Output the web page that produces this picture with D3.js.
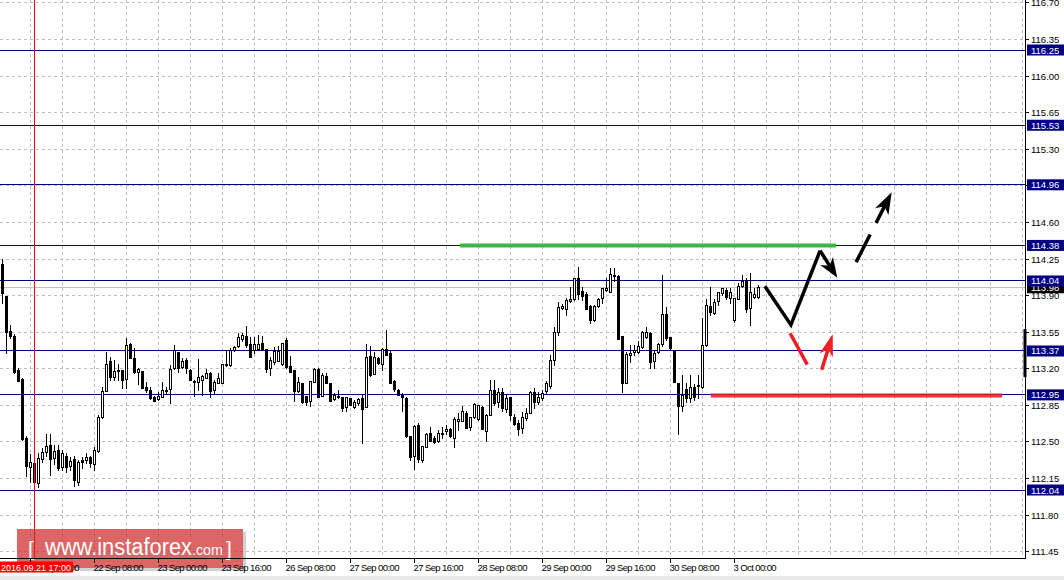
<!DOCTYPE html>
<html><head><meta charset="utf-8">
<script src="https://cdn.jsdelivr.net/npm/d3@7"></script>
<style>
body{margin:0;background:#fff;}
svg{display:block;font-family:"Liberation Sans",Arial,sans-serif;}
</style>
</head><body>
<svg id="c" width="1064" height="580"></svg>
<script>
// ---- data (USD/JPY H1) ----
const opens = [114.20,113.90,113.56,113.51,113.19,113.10,112.54,112.26,112.30,112.11,
112.33,112.40,112.47,112.34,112.42,112.26,112.37,112.27,112.34,112.12,
112.33,112.33,112.36,112.29,112.41,112.74,112.99,113.27,113.12,113.19,
113.19,113.10,113.44,113.30,113.17,113.18,113.03,113.00,112.93,112.91,
112.93,112.99,113.01,113.21,113.36,113.21,113.28,113.19,113.07,113.07,
113.09,113.11,113.16,112.99,113.06,113.07,113.24,113.24,113.38,113.41,
113.48,113.51,113.44,113.38,113.39,113.45,113.39,113.20,113.26,113.27,
113.25,113.48,113.23,113.19,112.98,113.06,112.94,112.89,113.08,113.20,
112.94,113.13,113.06,112.91,112.94,112.93,112.83,112.92,112.83,112.87,
112.92,112.83,113.32,113.15,113.30,113.25,113.39,113.35,113.08,113.00,
112.95,112.92,112.56,112.36,112.66,112.33,112.46,112.59,112.54,112.51,
112.58,112.60,112.62,112.54,112.70,112.70,112.78,112.64,112.74,112.72,
112.83,112.61,112.76,113.00,112.88,112.98,112.81,112.93,112.74,112.68,
112.63,112.73,112.78,112.98,112.88,112.92,112.98,113.03,113.28,113.55,
113.78,113.77,113.85,113.87,114.07,113.94,113.92,113.80,113.67,113.80,
113.87,113.95,113.94,114.10,114.09,113.51,113.06,113.33,113.36,113.36,
113.41,113.50,113.54,113.27,113.36,113.43,113.72,113.50,113.38,113.06,
112.84,113.01,112.92,113.03,113.03,113.03,113.43,113.80,113.73,113.84,
113.92,113.95,113.87,113.67,113.87,113.99,114.05,113.78,113.89,113.88];
const highs = [114.25,113.90,113.62,113.53,113.21,113.11,112.56,112.38,112.30,112.39,
112.44,112.58,112.58,112.47,112.47,112.42,112.39,112.36,112.37,112.33,
112.36,112.39,112.37,112.45,112.76,113.03,113.36,113.31,113.28,113.25,
113.19,113.49,113.45,113.40,113.21,113.18,113.07,113.03,112.94,112.98,
113.07,113.03,113.24,113.43,113.36,113.30,113.30,113.20,113.09,113.29,
113.14,113.20,113.17,113.09,113.16,113.25,113.38,113.40,113.42,113.54,
113.54,113.61,113.50,113.50,113.52,113.51,113.39,113.31,113.41,113.42,
113.45,113.49,113.32,113.19,113.12,113.06,112.94,113.08,113.21,113.21,
113.16,113.16,113.06,112.97,113.00,112.93,112.93,112.92,112.90,112.92,
112.95,113.44,113.42,113.36,113.31,113.40,113.57,113.38,113.09,113.01,
112.97,112.93,112.56,112.66,112.68,112.46,112.59,112.64,112.56,112.61,
112.64,112.66,112.63,112.74,112.78,112.84,112.80,112.74,112.87,112.85,
112.84,112.77,113.09,113.09,113.02,113.02,112.95,112.93,112.77,112.71,
112.79,112.82,112.99,113.02,112.98,113.00,113.08,113.33,113.60,113.84,
113.82,113.88,113.98,114.07,114.17,113.98,113.93,113.81,113.81,113.88,
113.97,114.07,114.16,114.16,114.10,113.51,113.36,113.43,113.43,113.47,
113.56,113.60,113.55,113.38,113.45,114.10,113.79,113.50,113.38,113.06,
113.14,113.06,113.14,113.05,113.14,113.69,113.87,113.98,113.87,113.93,
113.97,113.97,113.97,113.88,114.02,114.10,114.07,114.12,113.97,114.00];
const lows = [113.83,113.35,113.49,113.16,113.08,112.52,112.17,112.12,112.10,112.07,
112.31,112.37,112.18,112.29,112.23,112.23,112.21,112.23,112.08,112.09,
112.25,112.30,112.26,112.23,112.40,112.73,112.99,113.09,113.09,113.09,
113.02,113.02,113.30,113.16,113.05,113.02,112.98,112.91,112.89,112.90,
112.93,112.97,112.87,113.20,113.17,113.21,113.16,113.09,112.94,113.00,
112.95,113.11,112.93,112.97,113.06,113.07,113.23,113.23,113.37,113.41,
113.47,113.41,113.32,113.35,113.38,113.38,113.17,113.14,113.25,113.27,
113.24,113.21,113.17,112.89,112.98,112.87,112.85,112.84,113.08,112.93,
112.94,113.06,112.89,112.90,112.92,112.80,112.80,112.85,112.82,112.85,
112.49,112.83,113.13,113.15,113.25,113.19,113.33,113.06,112.99,112.95,
112.80,112.55,112.33,112.24,112.31,112.31,112.45,112.51,112.49,112.50,
112.54,112.58,112.55,112.45,112.61,112.70,112.64,112.61,112.73,112.71,
112.62,112.51,112.76,112.85,112.83,112.80,112.79,112.71,112.66,112.57,
112.59,112.71,112.78,112.82,112.86,112.90,112.97,113.02,113.24,113.52,
113.77,113.71,113.84,113.86,113.87,113.86,113.78,113.64,113.66,113.79,
113.83,113.94,113.93,114.04,113.49,112.98,113.06,113.26,113.33,113.35,
113.40,113.49,113.21,113.21,113.35,113.42,113.48,113.38,113.07,112.58,
112.80,112.88,112.88,112.90,112.92,113.02,113.42,113.71,113.72,113.81,
113.91,113.87,113.83,113.65,113.87,113.98,113.74,113.62,113.88,113.88];
const closes = [113.92,113.56,113.51,113.17,113.08,112.53,112.27,112.31,112.12,112.35,
112.40,112.46,112.34,112.41,112.25,112.39,112.26,112.32,112.14,112.31,
112.31,112.36,112.30,112.42,112.74,112.99,113.25,113.12,113.18,113.18,
113.09,113.43,113.31,113.17,113.20,113.02,113.00,112.92,112.89,112.94,
113.00,113.00,113.20,113.38,113.21,113.27,113.20,113.09,113.08,113.12,
113.13,113.16,112.99,113.07,113.11,113.25,113.25,113.38,113.41,113.50,
113.52,113.42,113.32,113.44,113.44,113.39,113.20,113.28,113.37,113.37,
113.45,113.22,113.17,112.99,113.07,112.88,112.88,113.08,113.20,112.93,
113.14,113.06,112.89,112.95,112.93,112.82,112.93,112.85,112.88,112.91,
112.81,113.31,113.14,113.31,113.25,113.39,113.33,113.06,113.00,112.95,
112.93,112.56,112.36,112.65,112.33,112.46,112.58,112.51,112.50,112.59,
112.59,112.62,112.55,112.72,112.72,112.80,112.64,112.74,112.86,112.85,
112.62,112.76,113.00,112.88,112.98,112.83,112.92,112.76,112.67,112.62,
112.74,112.78,112.98,112.88,112.93,112.97,113.06,113.28,113.55,113.79,
113.80,113.86,113.87,114.07,113.92,113.89,113.78,113.67,113.80,113.87,
113.97,113.97,114.11,114.09,113.49,113.06,113.34,113.35,113.38,113.42,
113.55,113.55,113.26,113.35,113.44,113.72,113.49,113.39,113.07,112.84,
112.95,112.92,113.03,112.93,113.04,113.43,113.81,113.74,113.84,113.93,
113.97,113.88,113.93,113.88,113.99,114.04,113.77,113.93,113.92,113.98];

const priceTicks = [116.70,116.35,116.00,115.65,115.30,114.95,114.60,114.25,113.90,113.55,113.20,112.85,112.50,112.15,111.80,111.45];
const levels = [116.25,115.53,114.96,114.38,114.04,113.37,112.95,112.04];
const bidPrice = 113.98;
const timeLabels = ["21 Sep 16:00","22 Sep 08:00","23 Sep 00:00","23 Sep 16:00","26 Sep 08:00","27 Sep 00:00","27 Sep 16:00","28 Sep 08:00","29 Sep 00:00","29 Sep 16:00","30 Sep 08:00","3 Oct 00:00"];
const timeLabelBars = [7,23,39,55,71,87,103,119,135,151,167,183];
const crossBar = 8;
const crossLabel = "2016.09.21 17:00";
const sideMarker = [113.58, 113.12];
// forecast drawing: [bar, price]
const greenSupport = {price:114.38, bars:[114.4, 208.4]};
const redSupport = {price:112.95, bars:[177.1, 249.9]};
const blackPath = [[190.6,113.99],[197.1,113.62],[204.4,114.33],[208.7,114.07]];
const blackDashed = [[213.4,114.22],[222.3,114.89]];
const redLine = [[196.9,113.54],[201.2,113.24]];
const redArrow = [[204.8,113.19],[207.55,113.53]];

// ---- drawing ----
const svg = d3.select("#c");
const plotR = 1025, plotB = 558;
const x = d3.scaleLinear().domain([0,256]).range([2.5,1026.5]);
const y = d3.scaleLinear().domain([112.04,116.25]).range([490,50]);
const crisp = v => Math.round(v - 0.5) + 0.5;
const NAVY = "#000080";

svg.append("rect").attr("width",1064).attr("height",580).attr("fill","#fff");
svg.append("defs").append("clipPath").attr("id","clip")
  .append("rect").attr("x",0).attr("y",0).attr("width",plotR).attr("height",plotB);
const plot = svg.append("g").attr("clip-path","url(#clip)");

// grid
plot.append("g").selectAll("line").data(priceTicks).join("line")
  .attr("x1",0).attr("x2",plotR).attr("y1",d=>crisp(y(d))).attr("y2",d=>crisp(y(d)))
  .attr("stroke","#c0c0c0").attr("stroke-dasharray","3,3");
const gridBars = d3.range(7, 256, 8).filter(b => x(b) < plotR);
plot.append("g").selectAll("line").data(gridBars).join("line")
  .attr("x1",d=>x(d)).attr("x2",d=>x(d)).attr("y1",0).attr("y2",plotB)
  .attr("stroke","#c0c0c0").attr("stroke-dasharray","3,3");

// level lines
plot.append("g").selectAll("line").data(levels).join("line")
  .attr("x1",0).attr("x2",plotR).attr("y1",d=>crisp(y(d))).attr("y2",d=>crisp(y(d)))
  .attr("stroke",NAVY).attr("stroke-width",1);
plot.append("line").attr("x1",0).attr("x2",plotR)
  .attr("y1",crisp(y(bidPrice))).attr("y2",crisp(y(bidPrice)))
  .attr("stroke","#c0c0c0");

// candles
const idx = d3.range(opens.length);
const cg = plot.append("g");
cg.selectAll("line").data(idx).join("line")
  .attr("x1",i=>x(i)).attr("x2",i=>x(i))
  .attr("y1",i=>Math.round(y(highs[i]))).attr("y2",i=>Math.round(y(lows[i]))+1)
  .attr("stroke","#000");
cg.selectAll("rect").data(idx).join("rect")
  .attr("x",i=>x(i)-1).attr("width",2)
  .attr("y",i=>Math.round(y(Math.max(opens[i],closes[i])))+0.5)
  .attr("height",i=>Math.max(0.01, Math.round(Math.abs(y(opens[i])-y(closes[i])))))
  .attr("fill",i=>closes[i]>=opens[i]?"#fff":"#000")
  .attr("stroke","#000").attr("stroke-width",1);

// crosshair red vertical
plot.append("line").attr("x1",x(crossBar)).attr("x2",x(crossBar))
  .attr("y1",0).attr("y2",plotB).attr("stroke","#ff0000");

// forecast lines
const GREEN = "#3bb54a", RED = "#ee1d26";
plot.append("line").attr("x1",x(greenSupport.bars[0])).attr("x2",x(greenSupport.bars[1]))
  .attr("y1",y(greenSupport.price)).attr("y2",y(greenSupport.price))
  .attr("stroke",GREEN).attr("stroke-width",4);
plot.append("line").attr("x1",x(redSupport.bars[0])).attr("x2",x(redSupport.bars[1]))
  .attr("y1",y(redSupport.price)+0.5).attr("y2",y(redSupport.price)+0.5)
  .attr("stroke",RED).attr("stroke-width",4).attr("opacity",0.9);

const pt = d => [x(d[0]), y(d[1])];
function arrow(g, tail, tip, L, Wd, color, dash){
  const [x0,y0] = tail, [x1,y1] = tip;
  const len = Math.hypot(x1-x0, y1-y0), ux=(x1-x0)/len, uy=(y1-y0)/len, nx=-uy, ny=ux;
  const bx = x1-ux*L, by = y1-uy*L;
  const line = g.append("line").attr("x1",x0).attr("y1",y0)
    .attr("x2",x1-ux*L*0.6).attr("y2",y1-uy*L*0.6)
    .attr("stroke",color).attr("stroke-width",3.5);
  if (dash) line.attr("stroke-dasharray",dash);
  g.append("path").attr("d",
    `M${x1},${y1}L${bx+nx*Wd/2},${by+ny*Wd/2}L${x1-ux*L*0.72},${y1-uy*L*0.72}L${bx-nx*Wd/2},${by-ny*Wd/2}Z`)
    .attr("fill",color);
}
const ag = plot.append("g");
const bp = blackPath.map(pt);
ag.append("path").attr("d", d3.line()(bp.slice(0,3)))
  .attr("fill","none").attr("stroke","#000").attr("stroke-width",3.5).attr("stroke-linejoin","miter");
arrow(ag, bp[2], bp[3], 20, 15, "#000");
arrow(ag, pt(blackDashed[0]), pt(blackDashed[1]), 22, 15, "#000", "31,13");
ag.append("line").attr("x1",pt(redLine[0])[0]).attr("y1",pt(redLine[0])[1])
  .attr("x2",pt(redLine[1])[0]).attr("y2",pt(redLine[1])[1])
  .attr("stroke",RED).attr("stroke-width",3.5);
arrow(ag, pt(redArrow[0]), pt(redArrow[1]), 22, 14, RED);

// logo
const lg = svg.append("g");
lg.append("rect").attr("x",243).attr("y",532).attr("width",3).attr("height",39).attr("fill","#000").attr("opacity",0.18);
lg.append("rect").attr("x",20).attr("y",568).attr("width",223).attr("height",3).attr("fill","#000").attr("opacity",0.18);
lg.append("rect").attr("x",17).attr("y",529).attr("width",226).attr("height",39)
  .attr("fill","rgb(205,35,35)").attr("opacity",0.7);
lg.append("text").attr("x",28).attr("y",556).attr("font-size",21).attr("fill","#fff").text("[");
lg.append("text").attr("x",45).attr("y",555).attr("font-size",23).attr("fill","#fff")
  .attr("textLength",147).attr("lengthAdjust","spacingAndGlyphs").text("www.instaforex");
lg.append("text").attr("x",192).attr("y",555).attr("font-size",15).attr("fill","#fff")
  .attr("textLength",31).attr("lengthAdjust","spacingAndGlyphs").text(".com");
lg.append("text").attr("x",226).attr("y",556).attr("font-size",21).attr("fill","#fff").text("]");

// axes
svg.append("line").attr("x1",0).attr("x2",plotR+1).attr("y1",plotB+0.5).attr("y2",plotB+0.5).attr("stroke","#000");
svg.append("line").attr("x1",plotR+0.5).attr("x2",plotR+0.5).attr("y1",0).attr("y2",plotB+1).attr("stroke","#000");
svg.append("rect").attr("x",0).attr("y",576).attr("width",1064).attr("height",4).attr("fill","#e8e8e8");

// right axis ticks & labels
const ra = svg.append("g").attr("font-size",9.5).attr("fill","#000");
ra.selectAll("line").data(priceTicks).join("line")
  .attr("x1",plotR).attr("x2",plotR+4).attr("y1",d=>crisp(y(d))).attr("y2",d=>crisp(y(d))).attr("stroke","#000");
ra.selectAll("text").data(priceTicks).join("text")
  .attr("x",1031).attr("y",d=>y(d)+3.5).text(d=>d.toFixed(2));
svg.append("rect").attr("x",plotR-1.5).attr("y",y(sideMarker[0])).attr("width",3)
  .attr("height",y(sideMarker[1])-y(sideMarker[0])).attr("fill","#000");

// bid label then level labels
const lab = svg.append("g").attr("font-size",9.5);
lab.append("rect").attr("x",1027).attr("y",y(bidPrice)-5).attr("width",37).attr("height",11).attr("fill","#000");
lab.append("text").attr("x",1031).attr("y",y(bidPrice)+4).attr("fill","#fff").text(bidPrice.toFixed(2));
levels.forEach(p=>{
  lab.append("rect").attr("x",1027).attr("y",y(p)-5.5).attr("width",37).attr("height",11).attr("fill",NAVY);
  lab.append("text").attr("x",1031).attr("y",y(p)+3.5).attr("fill","#fff").text(p.toFixed(2));
});

// bottom time axis
const ba = svg.append("g").attr("font-size",9.5);
ba.selectAll("line").data(timeLabelBars).join("line")
  .attr("x1",d=>x(d)).attr("x2",d=>x(d)).attr("y1",plotB).attr("y2",plotB+5).attr("stroke","#000");
ba.selectAll("text").data(timeLabelBars).join("text")
  .attr("x",d=>x(d)-1).attr("y",571).attr("letter-spacing","-0.6")
  .text((d,i)=>timeLabels[i]);
// crosshair time label
svg.append("rect").attr("x",0).attr("y",561.5).attr("width",73).attr("height",11).attr("fill","#ff0000");
svg.append("text").attr("x",1).attr("y",570.5).attr("font-size",9).attr("fill","#fff").text(crossLabel);
</script>
</body></html>
